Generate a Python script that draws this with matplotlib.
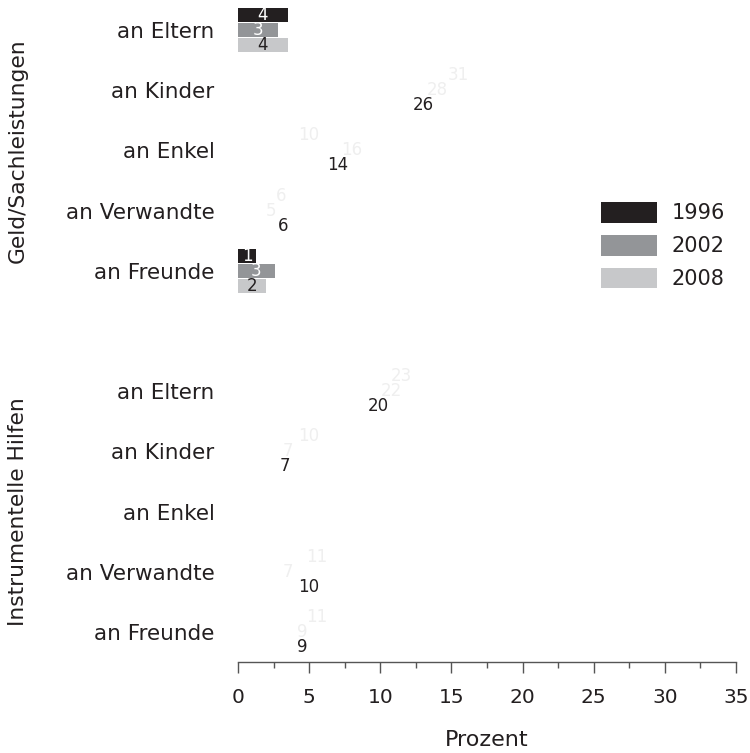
import matplotlib
matplotlib.use("Agg")
import matplotlib.pyplot as plt
from matplotlib.patches import Patch
from matplotlib.transforms import blended_transform_factory
import numpy as np

plt.rcParams['font.family'] = ['DejaVu Sans']

# data
years = ['1996', '2002', '2008']
year_colors = ['#231f20', '#939598', '#c7c8ca']
groups = ['Geld/Sachleistungen', 'Instrumentelle Hilfen']
categories = ['an Eltern', 'an Kinder', 'an Enkel', 'an Verwandte', 'an Freunde']

# Geld/Sachleistungen, one list per category: 1996, 2002, 2008
geld = [
    [3.5, 2.8, 3.5],
    [31, 28, 26],
    [10, 16, 14],
    [6, 4.6, 6.4],
    [1.3, 2.6, 2.0],
]
# Instrumentelle Hilfen
hilfen = [
    [23, 21.5, 19.7],
    [10, 7, 6.6],
    [np.nan, np.nan, np.nan],
    [11, 7, 10],
    [11, 9, 9],
]
# only these rows show their bars in the original
bars_shown = [
    [True, False, False, False, True],
    [False, False, False, False, False],
]

text_col = '#231f20'
faint = '#efefef'

fig = plt.figure(figsize=(7.5, 7.53), dpi=100)
ax = fig.add_axes([238 / 750, 91 / 753, 498 / 750, 662 / 753])

offs = [-0.25, 0.0, 0.25]
bar_h = 0.23

ypos = []
ylabels = []
for g, data in enumerate([geld, hilfen]):
    base = g * 6
    for c, vals in enumerate(data):
        y = base + c
        ypos.append(y)
        ylabels.append(categories[c])
        shown = bars_shown[g][c]
        for k, v in enumerate(vals):
            if np.isnan(v):
                continue
            yy = y + offs[k]
            if shown:
                ax.barh(yy, v, height=bar_h, color=year_colors[k], edgecolor='none')
                tc = 'white' if k < 2 else text_col
            else:
                tc = faint if k < 2 else text_col
            ax.text(v / 2, yy, f"{v:.0f}", ha='center', va='center',
                    fontsize=12, color=tc)

ax.set_ylim(10.5, -0.5)
ax.set_xlim(0, 35)
ax.set_yticks(ypos)
ax.set_yticklabels(ylabels, fontsize=15.5, color=text_col)
ax.tick_params(axis='y', length=0, pad=17)

ax.set_xticks(np.arange(0, 36, 5))
ax.set_xticks(np.arange(2.5, 35, 5), minor=True)
ax.tick_params(axis='x', which='major', length=8, width=1, color='#555555',
               labelsize=14.5, labelcolor=text_col, pad=11)
ax.tick_params(axis='x', which='minor', length=4.3, width=1, color='#555555')
ax.set_xlabel('Prozent', fontsize=16, color=text_col, labelpad=16)

for s in ['top', 'right', 'left']:
    ax.spines[s].set_visible(False)
ax.spines['bottom'].set_color('#555555')
ax.spines['bottom'].set_linewidth(1)

# group labels
tr = blended_transform_factory(fig.transFigure, ax.transData)
for g, name in enumerate(groups):
    ax.text(18 / 750, g * 6 + 2, name, rotation=90, ha='center', va='center',
            fontsize=15.7, color=text_col, transform=tr)

handles = [Patch(facecolor=c, edgecolor='none') for c in year_colors]
fig.legend(handles, years, loc='upper left', bbox_to_anchor=(601 / 750, 1 - 202 / 753),
           bbox_transform=fig.transFigure, frameon=False, fontsize=15,
           handlelength=2.7, handleheight=1.15, labelspacing=0.55,
           handletextpad=0.7, borderpad=0, borderaxespad=0, labelcolor=text_col)

fig.savefig('out.png', dpi=100)
